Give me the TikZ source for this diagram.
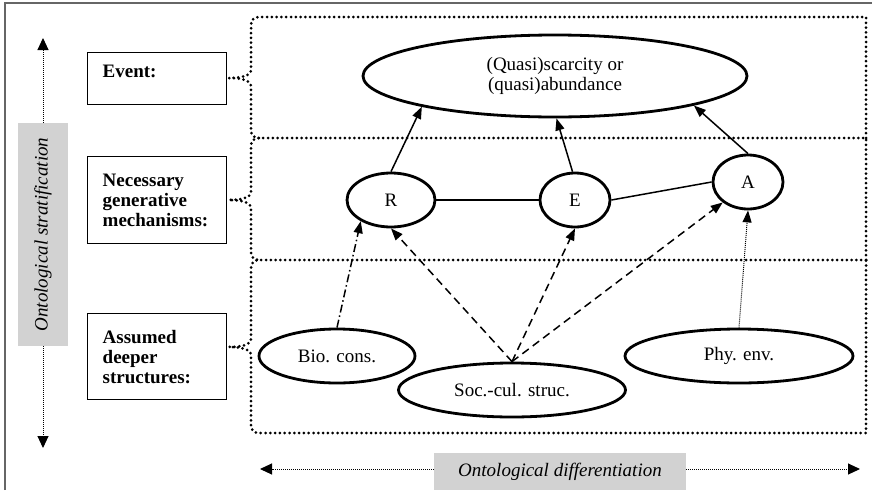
\documentclass[tikz,border=0pt]{standalone}
\usepackage{fontspec}
\setmainfont{Liberation Serif}
\usetikzlibrary{shapes.geometric,arrows.meta}
\definecolor{boxgray}{HTML}{D2D2D2}
\definecolor{framegray}{HTML}{666666}

\begin{document}
\begin{tikzpicture}[x=1pt,y=-1pt,
  font=\fontsize{19}{20}\selectfont,
  oval/.style={ellipse,draw,line width=2.8pt,inner sep=0pt,align=center},
  lblbox/.style={rectangle,draw,line width=1.4pt,anchor=north west,minimum width=139pt,text width=109pt,align=left,inner sep=0pt,font=\fontsize{19}{20}\selectfont\bfseries},
  layer/.style={line width=3pt,dash pattern=on 0pt off 4.8pt,line cap=round},
  link/.style={line width=1.5pt},
  tip/.style={-{Triangle[length=12pt,width=9pt]}},
  fine/.style={line width=1pt,dash pattern=on 1pt off 1pt},
  axistip/.style={-{Triangle[length=12pt,width=11pt]}},
  axislabel/.style={fill=boxgray,inner sep=0pt,font=\fontsize{19}{20}\selectfont\itshape}]
\useasboundingbox (0,0) rectangle (872,490);
\draw[line width=1.5pt,framegray] (5,490) -- (5,3) -- (872,3);

% layers (the lower one closes the line between two of them)
\draw[layer] (866,138) -- (866,17) -- (259,17) .. controls (254,17) and (251,20) .. (251,25) -- (251,70)
  .. controls (251,76) and (240,78) .. (229,78) .. controls (240,78) and (251,80) .. (251,86)
  -- (251,130) .. controls (251,135) and (254,138) .. (259,138);
\draw[layer] (866,260) -- (866,138) -- (259,138) .. controls (254,138) and (251,141) .. (251,146) -- (251,192)
  .. controls (251,198) and (240,200) .. (229,200) .. controls (240,200) and (251,202) .. (251,208)
  -- (251,252) .. controls (251,257) and (254,260) .. (259,260);
\draw[layer] (866,260) -- (259,260) .. controls (254,260) and (251,263) .. (251,268) -- (251,339)
  .. controls (251,345) and (240,347) .. (229,347) .. controls (240,347) and (251,349) .. (251,355)
  -- (251,425) .. controls (251,430) and (254,433) .. (259,433) -- (866,433) -- cycle;

\node[lblbox,minimum height=52pt,text depth=14pt] (evbox) at (87,52) {Event:};
\node[lblbox,minimum height=87pt] (mechbox) at (87,156) {Necessary\\generative\\mechanisms:};
\node[lblbox,minimum height=86pt] (structbox) at (87,313) {Assumed\\deeper\\structures:};

\node[oval,minimum width=384pt,minimum height=82pt] (outcome) at (555,76) {(Quasi)scarcity or\\(quasi)abundance};
\node[oval,minimum width=88pt,minimum height=54pt] (r) at (391,200) {R};
\node[oval,minimum width=70pt,minimum height=54pt] (e) at (575,200) {E};
\node[oval,minimum width=70pt,minimum height=54pt] (a) at (748,182) {A};
\node[oval,minimum width=156pt,minimum height=54pt] (bio) at (337,356) {Bio. cons.};
\node[oval,minimum width=227pt,minimum height=54pt] (soc) at (512,390) {Soc.-cul. struc.};
\node[oval,minimum width=228pt,minimum height=54pt] (phy) at (739,356) {Phy. env.};

\draw[link,tip] (r.north) -- (outcome.193);
\draw[link,tip] (e.95) -- (outcome.272);
\draw[link,tip] (a.north) -- (outcome.-12);
\draw[link] (r) -- (e);
\draw[link] (e.east) -- (a.west);
\draw[link,tip,dash pattern=on 8pt off 3pt on 1.5pt off 3pt] (bio.north) -- (r.215);
\draw[link,tip,dash pattern=on 8pt off 5pt] (soc.north) -- (r.south);
\draw[link,tip,dash pattern=on 8pt off 5pt] (soc.north) -- (e.south);
\draw[link,tip,dash pattern=on 8pt off 5pt] (soc.north) -- (a.219);
\draw[fine,tip] (phy.north) -- (a.south);

% axes
\node[axislabel,rotate=90,minimum width=223pt,minimum height=50pt] (strat) at (43,234.5) {Ontological stratification};
\coordinate (stratup) at (43,38);
\coordinate (stratdown) at (43,448);
\draw[fine,axistip] (strat.east) -- (stratup);
\draw[fine,axistip] (strat.west) -- (stratdown);
\node[axislabel,minimum width=252pt,minimum height=37pt] (diff) at (560,471.5) {Ontological differentiation};
\coordinate (diffleft) at (260,469);
\coordinate (diffright) at (860,469);
\draw[fine,axistip] (diff.west |- diffleft) -- (diffleft);
\draw[fine,axistip] (diff.east |- diffright) -- (diffright);
\end{tikzpicture}
\end{document}
